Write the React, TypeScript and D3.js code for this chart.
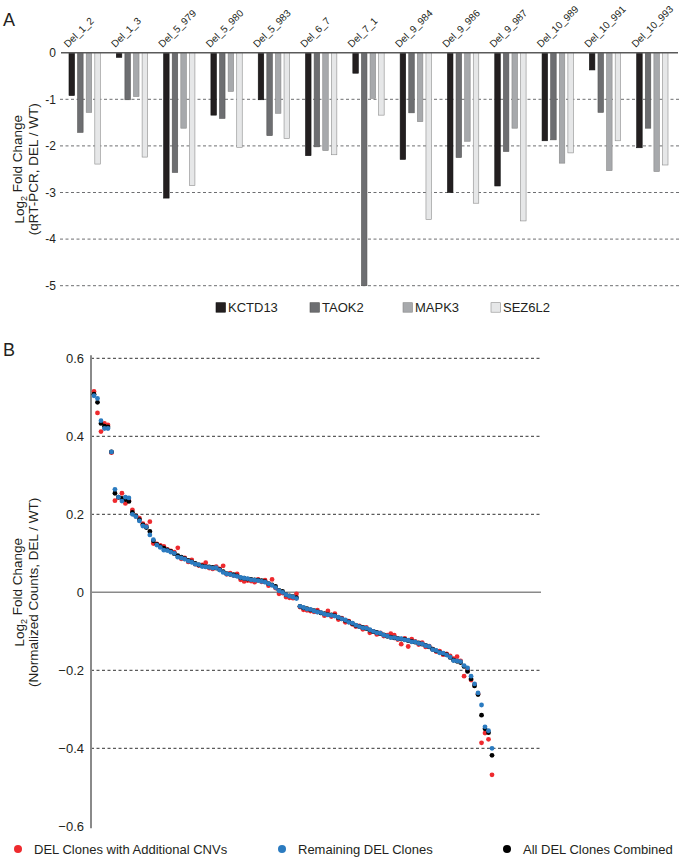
import React from 'react';
import * as d3 from 'd3';

// ---------- Panel A data ----------
const CATEGORIES = ['Del_1_2','Del_1_3','Del_5_979','Del_5_980','Del_5_983','Del_6_7','Del_7_1','Del_9_984','Del_9_986','Del_9_987','Del_10_989','Del_10_991','Del_10_993'];
const GENES = ['KCTD13','TAOK2','MAPK3','SEZ6L2'];
const KCTD13 = [-0.92,-0.10,-3.12,-1.34,-1.01,-2.21,-0.44,-2.29,-3.00,-2.86,-1.89,-0.37,-2.04];
const TAOK2 = [-1.71,-1.01,-2.57,-1.41,-1.78,-2.02,-5.00,-1.29,-2.25,-2.12,-1.87,-1.28,-1.62];
const MAPK3 = [-1.28,-0.94,-1.62,-0.83,-1.30,-2.10,-0.98,-1.48,-1.90,-1.62,-2.37,-2.53,-2.55];
const SEZ6L2 = [-2.39,-2.24,-2.85,-2.03,-1.84,-2.19,-1.34,-3.58,-3.23,-3.61,-2.15,-1.89,-2.41];
const A_TICKS = [0,-1,-2,-3,-4,-5];

// ---------- Panel B data (genes ranked by combined fold change) ----------
const COMBINED = [0.508,0.487,0.433,0.426,0.424,0.360,0.254,0.244,0.241,0.238,0.233,0.205,0.196,0.186,0.173,0.166,0.156,0.132,0.123,0.117,0.113,0.109,0.105,0.099,0.094,0.090,0.086,0.082,0.078,0.074,0.070,0.068,0.066,0.065,0.064,0.062,0.058,0.053,0.048,0.046,0.045,0.042,0.037,0.036,0.034,0.033,0.032,0.031,0.030,0.027,0.022,0.019,0.015,0.005,0.002,-0.006,-0.009,-0.011,-0.014,-0.036,-0.040,-0.042,-0.045,-0.047,-0.050,-0.053,-0.055,-0.057,-0.058,-0.060,-0.065,-0.068,-0.072,-0.076,-0.080,-0.085,-0.088,-0.090,-0.093,-0.097,-0.101,-0.103,-0.106,-0.109,-0.113,-0.115,-0.117,-0.118,-0.120,-0.121,-0.124,-0.126,-0.128,-0.130,-0.133,-0.136,-0.140,-0.146,-0.150,-0.154,-0.157,-0.160,-0.167,-0.174,-0.177,-0.180,-0.190,-0.203,-0.222,-0.240,-0.262,-0.315,-0.350,-0.360,-0.418];
const REMAINING = [0.504,0.497,0.440,0.420,0.420,0.360,0.264,0.244,0.234,0.244,0.242,0.200,0.194,0.183,0.170,0.168,0.147,0.135,0.121,0.115,0.108,0.107,0.103,0.100,0.090,0.088,0.085,0.080,0.077,0.072,0.071,0.066,0.065,0.064,0.062,0.063,0.057,0.051,0.047,0.046,0.043,0.041,0.038,0.036,0.035,0.032,0.031,0.030,0.028,0.026,0.022,0.018,0.012,0.004,0.000,-0.006,-0.010,-0.012,-0.016,-0.036,-0.039,-0.043,-0.044,-0.048,-0.051,-0.052,-0.056,-0.058,-0.059,-0.061,-0.064,-0.068,-0.071,-0.077,-0.079,-0.084,-0.088,-0.091,-0.092,-0.096,-0.100,-0.104,-0.105,-0.110,-0.112,-0.116,-0.116,-0.119,-0.119,-0.122,-0.123,-0.127,-0.127,-0.131,-0.132,-0.137,-0.139,-0.147,-0.149,-0.155,-0.156,-0.161,-0.166,-0.175,-0.176,-0.178,-0.188,-0.194,-0.215,-0.235,-0.258,-0.289,-0.345,-0.355,-0.400];
const ADDITIONAL = [0.515,0.460,0.412,0.433,0.429,0.358,0.235,0.243,0.254,0.228,0.235,0.211,0.196,0.190,0.176,0.170,0.181,0.125,0.124,0.120,0.118,0.110,0.106,0.103,0.114,0.086,0.088,0.078,0.083,0.072,0.069,0.070,0.076,0.062,0.060,0.066,0.060,0.068,0.046,0.049,0.043,0.047,0.032,0.028,0.030,0.029,0.026,0.033,0.027,0.031,0.017,0.033,0.011,-0.004,-0.002,-0.012,-0.014,-0.015,-0.004,-0.038,-0.045,-0.046,-0.048,-0.050,-0.046,-0.053,-0.060,-0.048,-0.062,-0.055,-0.070,-0.066,-0.077,-0.074,-0.082,-0.088,-0.086,-0.095,-0.090,-0.104,-0.100,-0.108,-0.104,-0.112,-0.110,-0.106,-0.110,-0.121,-0.133,-0.118,-0.139,-0.120,-0.126,-0.134,-0.129,-0.140,-0.138,-0.146,-0.152,-0.151,-0.160,-0.158,-0.163,-0.170,-0.165,-0.176,-0.215,-0.197,-0.225,-0.236,-0.260,-0.386,-0.361,-0.377,-0.468];
const B_TICKS = [0.6,0.4,0.2,0,-0.2,-0.4,-0.6];
const B_SERIES = ['DEL Clones with Additional CNVs','Remaining DEL Clones','All DEL Clones Combined'];

const FONT = '"Liberation Sans", Arial, Helvetica, sans-serif';
const GENE_FILL: Record<string,string> = { KCTD13: '#231f20', TAOK2: '#6d6e71', MAPK3: '#a7a9ac', SEZ6L2: '#e6e7e8' };
const GENE_STROKE: Record<string,string> = { KCTD13: '#111', TAOK2: '#555', MAPK3: '#888', SEZ6L2: '#8d8d8d' };
const RED = '#ee2a2e', BLUE = '#2b7bc0', BLACK = '#000000';

export default function App() {
  const geneValues: Record<string, number[]> = { KCTD13, TAOK2, MAPK3, SEZ6L2 };

  // Panel A scales
  const yA = d3.scaleLinear().domain([0, -5]).range([52.7, 285.7]);
  const xA = d3.scaleBand<string>().domain(CATEGORIES).range([61, 676]).paddingInner(0.338).paddingOuter(0.169);
  const xInner = d3.scaleBand<string>().domain(GENES).range([0, xA.bandwidth()]).paddingInner(0.36).paddingOuter(0);

  // Panel B scales
  const idx = d3.range(COMBINED.length);
  const xB = d3.scaleLinear().domain([0, COMBINED.length - 1]).range([94, 492]);
  const yB = d3.scaleLinear().domain([-0.6, 0.6]).range([826.3, 358.3]);

  const legendA = [216, 310, 403, 491];
  const legendB = [18, 282, 507];
  const seriesB = [
    { name: B_SERIES[0], vals: ADDITIONAL, color: RED },
    { name: B_SERIES[1], vals: REMAINING, color: BLUE },
    { name: B_SERIES[2], vals: COMBINED, color: BLACK },
  ];
  const drawOrder = [seriesB[0], seriesB[2], seriesB[1]];

  return (
    <svg width={684} height={862} style={{ position: 'absolute', left: 0, top: 0, background: '#fff' }} fontFamily={FONT}>
      {/* ----- Panel A ----- */}
      <text x={3} y={26} fontSize={18} fill="#231f20">A</text>
      {A_TICKS.filter(t => t !== 0).map(t => (
        <line key={'ga' + t} x1={60} x2={680} y1={yA(t)} y2={yA(t)} stroke="#6d6e71" strokeWidth={1} strokeDasharray="3,2.5" />
      ))}
      {A_TICKS.map(t => (
        <text key={'ta' + t} x={56} y={yA(t)} dy="0.35em" textAnchor="end" fontSize={12} fill="#231f20">{t}</text>
      ))}
      {CATEGORIES.map((c, ci) => (
        <g key={c}>
          {GENES.map(g => {
            const v = geneValues[g][ci];
            return (
              <rect key={g} x={(xA(c) as number) + (xInner(g) as number)} y={yA(0)} width={xInner.bandwidth()}
                height={yA(v) - yA(0)} fill={GENE_FILL[g]} stroke={GENE_STROKE[g]} strokeWidth={0.6} />
            );
          })}
          <text transform={`translate(${(xA(c) as number) - 1},48) rotate(-45)`} fontSize={10} fill="#231f20">{c}</text>
        </g>
      ))}
      <line x1={61} x2={678} y1={yA(0)} y2={yA(0)} stroke="#5a5a5a" strokeWidth={1.4} />
      <text transform={`translate(24,${(yA(0) + yA(-5)) / 2}) rotate(-90)`} textAnchor="middle" fontSize={13.5} fill="#231f20">
        Log<tspan fontSize={9} dy="0.35em">2</tspan><tspan dy="-0.35em"> Fold Change</tspan>
      </text>
      <text transform={`translate(38,${(yA(0) + yA(-5)) / 2}) rotate(-90)`} textAnchor="middle" fontSize={13.5} fill="#231f20">
        (qRT-PCR, DEL / WT)
      </text>
      {GENES.map((g, i) => (
        <g key={'la' + g}>
          <rect x={legendA[i]} y={302.7} width={9.5} height={9.5} fill={GENE_FILL[g]} stroke={GENE_STROKE[g]} strokeWidth={0.6} />
          <text x={legendA[i] + 12} y={312} fontSize={13} fill="#231f20">{g}</text>
        </g>
      ))}

      {/* ----- Panel B ----- */}
      <text x={3} y={356} fontSize={18} fill="#231f20">B</text>
      {B_TICKS.filter(t => t !== 0 && t !== -0.6).map(t => (
        <line key={'gb' + t} x1={91} x2={541} y1={yB(t)} y2={yB(t)} stroke="#333" strokeWidth={1} strokeDasharray="3,2.5" />
      ))}
      <line x1={91} x2={541} y1={yB(0)} y2={yB(0)} stroke="#8a8a8a" strokeWidth={1.6} />
      <line x1={91} x2={91} y1={yB(0.6) - 3} y2={yB(-0.6) + 2} stroke="#8a8a8a" strokeWidth={2} />
      {B_TICKS.map(t => (
        <text key={'tb' + t} x={84} y={yB(t)} dy="0.35em" textAnchor="end" fontSize={13} fill="#231f20">{t === 0 ? '0' : d3.format('.1f')(t)}</text>
      ))}
      <text transform={`translate(24,${yB(0)}) rotate(-90)`} textAnchor="middle" fontSize={13.5} fill="#231f20">
        Log<tspan fontSize={9} dy="0.35em">2</tspan><tspan dy="-0.35em"> Fold Change</tspan>
      </text>
      <text transform={`translate(38,${yB(0)}) rotate(-90)`} textAnchor="middle" fontSize={13.5} fill="#231f20">
        (Normalized Counts, DEL / WT)
      </text>
      {drawOrder.map(s => (
        <g key={s.name}>
          {idx.map(i => (
            <circle key={i} cx={xB(i)} cy={yB(s.vals[i])} r={2.4} fill={s.color} />
          ))}
        </g>
      ))}
      {seriesB.map((s, i) => (
        <g key={'lb' + i}>
          <circle cx={legendB[i]} cy={849} r={4} fill={s.color} />
          <text x={legendB[i] + 16} y={849} dy="0.35em" fontSize={13} fill="#231f20">{s.name}</text>
        </g>
      ))}
    </svg>
  );
}
